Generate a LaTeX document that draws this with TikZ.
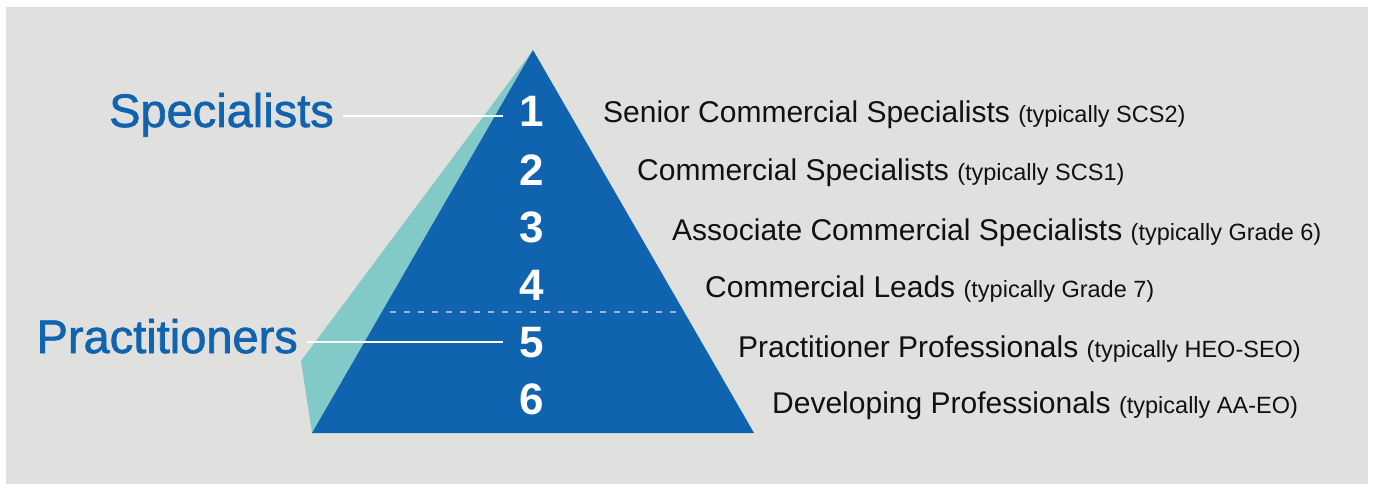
\documentclass[tikz,border=0pt]{standalone}
\usepackage{fontspec}
\setmainfont{Liberation Sans}
\newfontfamily\grpfont[FakeBold=1.4]{Liberation Sans}
\definecolor{pyrblue}{HTML}{1063AE}
\definecolor{pyrteal}{HTML}{82CAC7}
\definecolor{panel}{HTML}{E0E0DF}
\definecolor{tierline}{HTML}{A3B2DA}
\definecolor{labeltext}{HTML}{111111}
\begin{document}
\begin{tikzpicture}[x=1pt,y=-1pt,
  level/.style={anchor=base, inner sep=0pt, text=white,
    font=\fontsize{44}{44}\selectfont\bfseries, text height=32pt, text depth=0pt},
  group/.style={anchor=base east, inner sep=0pt, text=pyrblue,
    font=\fontsize{47}{47}\selectfont\grpfont, text height=33pt, text depth=11pt},
  role/.style={anchor=base west, inner sep=0pt, text=labeltext,
    font=\fontsize{30}{31}\selectfont},
  link/.style={draw=white, line width=1.5pt, shorten <=9pt, shorten >=17pt},
  divider/.style={draw=tierline, line width=1.4pt, dash pattern=on 6pt off 8pt}]
\newcommand{\typ}[1]{{\fontsize{23.5}{24}\selectfont #1}}

% panel and margins
\useasboundingbox (0,0) rectangle (1373,484);
\fill[panel] (6,7) rectangle (1368,484);

% pyramid: side face, then front face
\fill[pyrteal] (533,50) -- (301,361) -- (312,433) -- cycle;
\fill[pyrblue] (533,50) -- (754,433) -- (312,433) -- cycle;
\draw[divider] (390,312) -- (682,312);

% tier numbers
\node[level] (n1) at (532,127) {1};
\node[level] (n2) at (532,185) {2};
\node[level] (n3) at (532,242) {3};
\node[level] (n4) at (532,300) {4};
\node[level] (n5) at (532,357) {5};
\node[level] (n6) at (532,414) {6};

% group headings
\node[group] (spec) at (334,127) {Specialists};
\node[group] (prac) at (298,353) {Practitioners};
\draw[link] (spec.east) -- (spec.east -| n1.west);
\draw[link] (prac.east) -- (prac.east -| n5.west);

% role descriptions
\node[role] (r1) at (603,123) {Senior Commercial Specialists \typ{(typically SCS2)}};
\node[role] (r2) at (637,180) {Commercial Specialists \typ{(typically SCS1)}};
\node[role] (r3) at (672,240) {Associate Commercial Specialists \typ{(typically Grade 6)}};
\node[role] (r4) at (705,297) {Commercial Leads \typ{(typically Grade 7)}};
\node[role] (r5) at (738,357) {Practitioner Professionals \typ{(typically HEO-SEO)}};
\node[role] (r6) at (772,413) {Developing Professionals \typ{(typically AA-EO)}};
\end{tikzpicture}
\end{document}
